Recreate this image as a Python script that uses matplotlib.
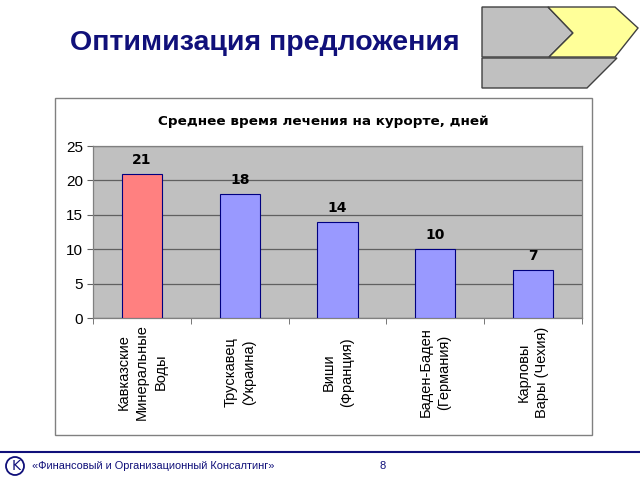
import matplotlib.pyplot as plt
from matplotlib.patches import Polygon, Rectangle, Ellipse
from matplotlib.lines import Line2D

# data
resorts = ['Кавказские\nМинеральные\nВоды', 'Трускавец\n(Украина)', 'Виши\n(Франция)',
           'Баден-Баден\n(Германия)', 'Карловы\nВары (Чехия)']
days = [21, 18, 14, 10, 7]
bar_colors = ['#ff8080', '#9999ff', '#9999ff', '#9999ff', '#9999ff']
yticks = [0, 5, 10, 15, 20, 25]

W, H = 640, 480
def px(x, y):
    return (x / W, 1 - y / H)

fig = plt.figure(figsize=(6.4, 4.8), dpi=100)
fig.patch.set_facecolor('white')

navy = '#10107a'

# main title
fig.text(*px(70, 43), 'Оптимизация предложения', fontsize=20.5, fontweight='bold',
         color=navy, family='Liberation Sans', va='center', ha='left')

# top right decoration
gray_top = Polygon([px(482, 7), px(548, 7), px(573, 33), px(549, 57), px(482, 57)],
                   closed=True, transform=fig.transFigure, facecolor='#c0c0c0',
                   edgecolor='#404040', lw=1)
yellow = Polygon([px(548, 7), px(615, 7), px(638, 28), px(615, 57), px(549, 57), px(573, 33)],
                 closed=True, transform=fig.transFigure, facecolor='#ffff99',
                 edgecolor='#404040', lw=1)
gray_bot = Polygon([px(482, 58), px(617, 58), px(587, 88), px(482, 88)],
                   closed=True, transform=fig.transFigure, facecolor='#c0c0c0',
                   edgecolor='#404040', lw=1)
for p in (gray_top, gray_bot, yellow):
    fig.patches.append(p)

# chart frame
frame = Rectangle(px(55, 435), (592 - 55) / W, (435 - 98) / H, transform=fig.transFigure,
                  fill=False, edgecolor='#808080', lw=1)
fig.patches.append(frame)

fig.text(*px(323, 122), 'Среднее время лечения на курорте, дней', fontsize=9.7,
         fontweight='bold', ha='center', va='center', color='black')

# plot area
ax = fig.add_axes([93 / W, 1 - 318 / H, (582 - 93) / W, (318 - 146) / H])
ax.set_facecolor('#c0c0c0')
x = list(range(len(days)))
ax.bar(x, days, width=0.41, color=bar_colors, edgecolor='#000080', lw=0.8, zorder=3)
for xi, v in zip(x, days):
    ax.text(xi, v + 1.0, str(v), ha='center', va='bottom', fontsize=10,
            fontweight='bold', color='black')

ax.set_xlim(-0.5, len(days) - 0.5)
ax.set_ylim(0, 25)
ax.set_yticks(yticks)
ax.yaxis.grid(True, color='#606060', lw=0.9, zorder=1)
ax.set_axisbelow(True)
for t in ax.get_yticklabels():
    t.set_fontsize(11)
    t.set_family('Liberation Sans')
ax.tick_params(axis='y', length=4, color='#606060', pad=3)

ax.set_xticks(x)
ax.set_xticklabels(resorts, rotation=90, va='center', ha='center',
                   multialignment='center', fontsize=10.5, family='Liberation Sans',
                   linespacing=1.4)
ax.set_xticks([i - 0.5 for i in range(len(days) + 1)], minor=True)
ax.tick_params(axis='x', which='major', length=0, pad=39)
ax.tick_params(axis='x', which='minor', length=4, color='#606060')
for s in ax.spines.values():
    s.set_color('#808080')
    s.set_linewidth(0.9)

# footer
fig.lines.append(Line2D([0, 1], [1 - 452 / H, 1 - 452 / H], transform=fig.transFigure,
                        color=navy, lw=1.5))
fig.patches.append(Ellipse(px(15, 466), 18 / W, 18 / H, transform=fig.transFigure,
                           fill=False, edgecolor=navy, lw=1.3))
fig.text(*px(16, 466), 'K', fontsize=10, color=navy, ha='center', va='center')
fig.text(*px(32, 466), '«Финансовый и Организационный Консалтинг»', fontsize=7.9,
         color=navy, ha='left', va='center', family='Liberation Sans')
fig.text(*px(383, 466), '8', fontsize=8, color=navy, ha='center', va='center',
         family='Liberation Sans')

fig.savefig('out.png', dpi=100)
